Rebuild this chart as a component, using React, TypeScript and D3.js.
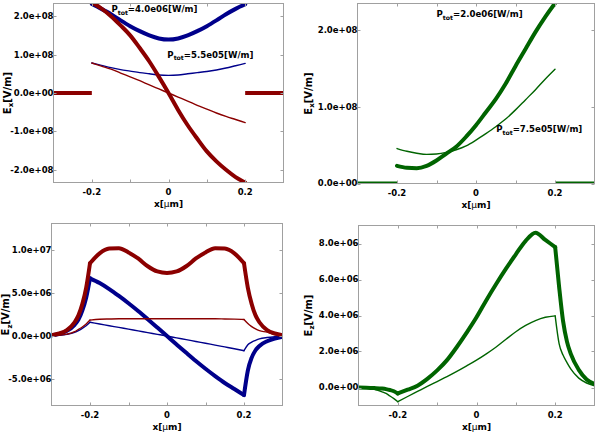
import React, { useEffect, useRef } from 'react';
import * as d3 from 'd3';

const W = 598;
const H = 434;

// positions along the guide cross-section (µm)
const coreX = [-0.2, -0.175, -0.15, -0.125, -0.1, -0.075, -0.05, -0.025, 0, 0.025, 0.05, 0.075, 0.1, 0.125, 0.15, 0.175, 0.2];
const cladLeftX = [-0.3, -0.2];
const cladRightX = [0.2, 0.3];
const cladZero = [0, 0];
const fullX = [
  -0.3, -0.28, -0.26, -0.24, -0.23, -0.22, -0.21, -0.2,
  -0.175, -0.15, -0.125, -0.1, -0.075, -0.05, -0.025, 0, 0.025, 0.05, 0.075, 0.1, 0.125, 0.15, 0.175,
  0.2, 0.21, 0.22, 0.23, 0.24, 0.26, 0.28, 0.3,
];
const fullBreaks = [7, 23]; // index of x = -0.2 and x = 0.2

// Ex in units of 1e8 V/m
const EX_UNIT = 1e8;
const exBlueHigh = [2.32, 2.19, 2.05, 1.89, 1.74, 1.61, 1.5, 1.42, 1.39, 1.42, 1.5, 1.61, 1.74, 1.89, 2.05, 2.19, 2.31];
const exRedHigh = [2.37, 2.2, 2.0, 1.76, 1.5, 1.17, 0.82, 0.42, 0, -0.44, -0.84, -1.19, -1.52, -1.78, -2.0, -2.19, -2.33];
const exBlueLow = [0.78, 0.72, 0.66, 0.61, 0.57, 0.53, 0.5, 0.47, 0.46, 0.47, 0.5, 0.53, 0.56, 0.6, 0.65, 0.71, 0.77];
const exRedLow = [0.78, 0.7, 0.62, 0.52, 0.42, 0.32, 0.21, 0.105, 0, -0.105, -0.21, -0.32, -0.42, -0.52, -0.61, -0.69, -0.77];
const exGreenHigh = [0.23, 0.205, 0.2, 0.23, 0.3, 0.39, 0.48, 0.61, 0.76, 0.93, 1.1, 1.3, 1.53, 1.75, 1.97, 2.17, 2.35];
const exGreenLow = [0.456, 0.42, 0.395, 0.38, 0.385, 0.405, 0.44, 0.49, 0.565, 0.65, 0.74, 0.84, 0.96, 1.09, 1.22, 1.36, 1.49];

// Ez in units of 1e6 V/m
const EZ_UNIT = 1e6;
const ezRedHigh = [
  0.1, 0.3, 0.7, 1.6, 2.4, 3.7, 5.6, 8.45,
  9.6, 10.15, 10.2, 9.7, 9.0, 8.1, 7.5, 7.33, 7.5, 8.1, 9.0, 9.7, 10.2, 10.15, 9.6,
  8.45, 5.6, 3.7, 2.4, 1.6, 0.7, 0.3, 0.1,
];
const ezBlueHigh = [
  0.08, 0.25, 0.6, 1.3, 1.9, 2.95, 4.45, 6.7,
  6.15, 5.45, 4.65, 3.8, 2.9, 1.95, 0.98, 0, -0.98, -1.95, -2.9, -3.8, -4.65, -5.45, -6.15,
  -6.85, -4.0, -2.5, -1.65, -1.15, -0.6, -0.3, -0.1,
];
const ezRedLow = [
  0.04, 0.1, 0.22, 0.5, 0.78, 1.05, 1.4, 1.85,
  1.95, 1.98, 2.0, 2.0, 2.0, 2.0, 2.0, 2.0, 2.0, 2.0, 2.0, 2.0, 2.0, 1.98, 1.96,
  1.92, 1.45, 1.1, 0.82, 0.62, 0.45, 0.15, 0.06,
];
const ezBlueLow = [
  0.03, 0.09, 0.2, 0.42, 0.62, 0.88, 1.2, 1.6,
  1.4, 1.2, 1.0, 0.8, 0.6, 0.4, 0.2, 0, -0.21, -0.42, -0.63, -0.84, -1.05, -1.26, -1.47,
  -1.7, -1.0, -0.7, -0.5, -0.33, -0.17, -0.08, -0.03,
];
const ezGreenHigh = [
  0, -0.01, -0.03, -0.06, -0.09, -0.14, -0.21, -0.33,
  -0.12, 0.1, 0.48, 0.95, 1.52, 2.25, 3.05, 3.9, 4.85, 5.75, 6.6, 7.4, 8.15, 8.6, 8.2,
  7.8, 5.6, 3.7, 2.55, 1.85, 0.98, 0.45, 0.2,
];
const ezGreenLow = [
  0, -0.03, -0.1, -0.24, -0.33, -0.47, -0.62, -0.79,
  -0.5, -0.22, 0.06, 0.33, 0.6, 0.89, 1.2, 1.52, 1.87, 2.25, 2.68, 3.1, 3.45, 3.72, 3.9,
  3.98, 2.44, 1.8, 1.38, 1.02, 0.52, 0.25, 0.1,
];

// ticks
const xTicks = [-0.2, -0.1, 0, 0.1, 0.2];
const xTickLabels = ['-0.2', '', '0', '', '0.2'];
const exTicksSym = [-2e8, -1e8, 0, 1e8, 2e8];
const exTicksPos = [0, 1e8, 2e8];
const ezTicksSym = [-5e6, 0, 5e6, 1e7];
const ezTicksPos = [0, 2e6, 4e6, 6e6, 8e6];

const DARKRED = '#8b0000';
const DARKBLUE = '#00008b';
const DARKGREEN = '#006400';
const FONT = '"DejaVu Sans", sans-serif';

const fmtExp = (v) => {
  const [m, e] = v.toExponential(1).split('e');
  const n = Math.abs(+e);
  return `${m}e${+e < 0 ? '-' : '+'}${String(n).padStart(2, '0')}`;
};

const scaled = (arr, unit) => arr.map(v => v * unit);

// split a profile at the core boundaries so the kinks stay sharp
const segments = (xs, ys, breaks) => {
  const idx = [0, ...(breaks || []), xs.length - 1];
  const out = [];
  for (let i = 0; i < idx.length - 1; i++) {
    const seg = [];
    for (let k = idx[i]; k <= idx[i + 1]; k++) seg.push([xs[k], ys[k]]);
    out.push(seg);
  }
  return out;
};

const panels = [
  {
    id: 'p1', left: 53.5, right: 283.5, top: 3.5, bottom: 182.5,
    yDomain: [-2.33e8, 2.33e8], yTicks: exTicksSym, labelX: 10.5, comp: 'x',
    series: [
      { x: coreX, y: scaled(exBlueHigh, EX_UNIT), color: DARKBLUE, width: 4 },
      { x: coreX, y: scaled(exBlueLow, EX_UNIT), color: DARKBLUE, width: 1.4 },
      { x: coreX, y: scaled(exRedHigh, EX_UNIT), color: DARKRED, width: 4 },
      { x: coreX, y: scaled(exRedLow, EX_UNIT), color: DARKRED, width: 1.4 },
      { x: cladLeftX, y: cladZero, color: DARKRED, width: 4, cap: 'butt' },
      { x: cladRightX, y: cladZero, color: DARKRED, width: 4, cap: 'butt' },
    ],
    notes: [
      { x: -0.149, y: 2.1e8, text: '=4.0e06[W/m]' },
      { x: -0.003, y: 0.92e8, text: '=5.5e05[W/m]' },
    ],
  },
  {
    id: 'p2', left: 357.5, right: 594.5, top: 3.5, bottom: 183.5,
    yDomain: [0, 2.347e8], yTicks: exTicksPos, labelX: 311.5, comp: 'x',
    series: [
      { x: coreX, y: scaled(exGreenHigh, EX_UNIT), color: DARKGREEN, width: 4 },
      { x: coreX, y: scaled(exGreenLow, EX_UNIT), color: DARKGREEN, width: 1.4 },
      { x: cladLeftX, y: cladZero, color: DARKGREEN, width: 4, cap: 'butt' },
      { x: cladRightX, y: cladZero, color: DARKGREEN, width: 4, cap: 'butt' },
    ],
    notes: [
      { x: -0.1, y: 2.17e8, text: '=2.0e06[W/m]' },
      { x: 0.051, y: 0.67e8, text: '=7.5e05[W/m]' },
    ],
  },
  {
    id: 'p3', left: 51.5, right: 282.5, top: 223.5, bottom: 405.5,
    yDomain: [-8.06e6, 13.06e6], yTicks: ezTicksSym, labelX: 9, comp: 'z',
    series: [
      { x: fullX, y: scaled(ezBlueHigh, EZ_UNIT), color: DARKBLUE, width: 4, breaks: fullBreaks },
      { x: fullX, y: scaled(ezBlueLow, EZ_UNIT), color: DARKBLUE, width: 1.4, breaks: fullBreaks },
      { x: fullX, y: scaled(ezRedHigh, EZ_UNIT), color: DARKRED, width: 4, breaks: fullBreaks },
      { x: fullX, y: scaled(ezRedLow, EZ_UNIT), color: DARKRED, width: 1.4, breaks: fullBreaks },
    ],
    notes: [],
  },
  {
    id: 'p4', left: 358.5, right: 594.5, top: 225.5, bottom: 405.5,
    yDomain: [-1e6, 9e6], yTicks: ezTicksPos, labelX: 311.5, comp: 'z',
    series: [
      { x: fullX, y: scaled(ezGreenHigh, EZ_UNIT), color: DARKGREEN, width: 4, breaks: fullBreaks },
      { x: fullX, y: scaled(ezGreenLow, EZ_UNIT), color: DARKGREEN, width: 1.4, breaks: fullBreaks },
    ],
    notes: [],
  },
];

const drawPanel = (svg, p) => {
  const x = d3.scaleLinear().domain([-0.3, 0.3]).range([p.left, p.right]);
  const y = d3.scaleLinear().domain(p.yDomain).range([p.bottom, p.top]);
  const g = svg.append('g');

  const clipId = `clip-${p.id}`;
  g.append('clipPath').attr('id', clipId)
    .append('rect')
    .attr('x', p.left).attr('y', p.top)
    .attr('width', p.right - p.left).attr('height', p.bottom - p.top);

  const line = d3.line().x(d => x(d[0])).y(d => y(d[1])).curve(d3.curveMonotoneX);
  const data = g.append('g').attr('clip-path', `url(#${clipId})`);
  p.series.forEach(s => {
    segments(s.x, s.y, s.breaks).forEach(seg => {
      data.append('path')
        .attr('d', line(seg))
        .attr('fill', 'none')
        .attr('stroke', s.color)
        .attr('stroke-width', s.width)
        .attr('stroke-linecap', s.cap || 'round')
        .attr('stroke-linejoin', 'round');
    });
  });

  // frame
  g.append('rect')
    .attr('x', p.left).attr('y', p.top)
    .attr('width', p.right - p.left).attr('height', p.bottom - p.top)
    .attr('fill', 'none').attr('stroke', '#a0a0a0').attr('stroke-width', 1);

  // inward ticks on all sides
  const tk = 3;
  xTicks.forEach(t => {
    const xx = Math.round(x(t)) + 0.5;
    g.append('line').attr('x1', xx).attr('x2', xx).attr('y1', p.bottom).attr('y2', p.bottom - tk).attr('stroke', '#a0a0a0');
    g.append('line').attr('x1', xx).attr('x2', xx).attr('y1', p.top).attr('y2', p.top + tk).attr('stroke', '#a0a0a0');
  });
  p.yTicks.forEach(t => {
    const yy = Math.round(y(t)) + 0.5;
    g.append('line').attr('x1', p.left).attr('x2', p.left + tk).attr('y1', yy).attr('y2', yy).attr('stroke', '#a0a0a0');
    g.append('line').attr('x1', p.right).attr('x2', p.right - tk).attr('y1', yy).attr('y2', yy).attr('stroke', '#a0a0a0');
  });

  // tick labels
  xTicks.forEach((t, i) => {
    if (!xTickLabels[i]) return;
    g.append('text')
      .attr('x', x(t)).attr('y', p.bottom + 12)
      .attr('text-anchor', 'middle')
      .style('font-family', FONT).style('font-weight', 'bold').style('font-size', '8.5px')
      .text(xTickLabels[i]);
  });
  p.yTicks.forEach(t => {
    g.append('text')
      .attr('x', p.left).attr('y', y(t)).attr('dy', '0.35em')
      .attr('text-anchor', 'end')
      .style('font-family', FONT).style('font-weight', 'bold').style('font-size', '8.5px')
      .text(fmtExp(t));
  });

  // axis labels
  const xl = g.append('text')
    .attr('x', (p.left + p.right) / 2).attr('y', p.bottom + 24)
    .attr('text-anchor', 'middle')
    .style('font-family', FONT).style('font-weight', 'bold').style('font-size', '9px');
  xl.append('tspan').text('x[');
  xl.append('tspan').style('font-weight', 'normal').text('\u03bc');
  xl.append('tspan').text('m]');

  const cy = (p.top + p.bottom) / 2;
  const yl = g.append('text')
    .attr('transform', `translate(${p.labelX},${cy}) rotate(-90)`)
    .attr('text-anchor', 'middle')
    .style('font-family', FONT).style('font-weight', 'bold').style('font-size', '10px');
  yl.append('tspan').text('E');
  yl.append('tspan').attr('dy', 2.5).style('font-size', '7px').text(p.comp);
  yl.append('tspan').attr('dy', -2.5).text('[V/m]');

  // power annotations
  p.notes.forEach(n => {
    const t = g.append('text')
      .attr('x', x(n.x)).attr('y', y(n.y))
      .style('font-family', FONT).style('font-weight', 'bold').style('font-size', '8.6px');
    t.append('tspan').text('P');
    t.append('tspan').attr('dy', 2.5).style('font-size', '6.2px').text('tot');
    t.append('tspan').attr('dy', -2.5).text(n.text);
  });
};

const App = () => {
  const ref = useRef(null);

  useEffect(() => {
    const svg = d3.select(ref.current);
    svg.selectAll('*').remove();
    svg.append('rect').attr('width', W).attr('height', H).attr('fill', '#ffffff');
    panels.forEach(p => drawPanel(svg, p));
  }, []);

  return (
    <svg
      ref={ref}
      width={W}
      height={H}
      style={{ position: 'absolute', left: 0, top: 0, display: 'block' }}
    />
  );
};

export default App;
